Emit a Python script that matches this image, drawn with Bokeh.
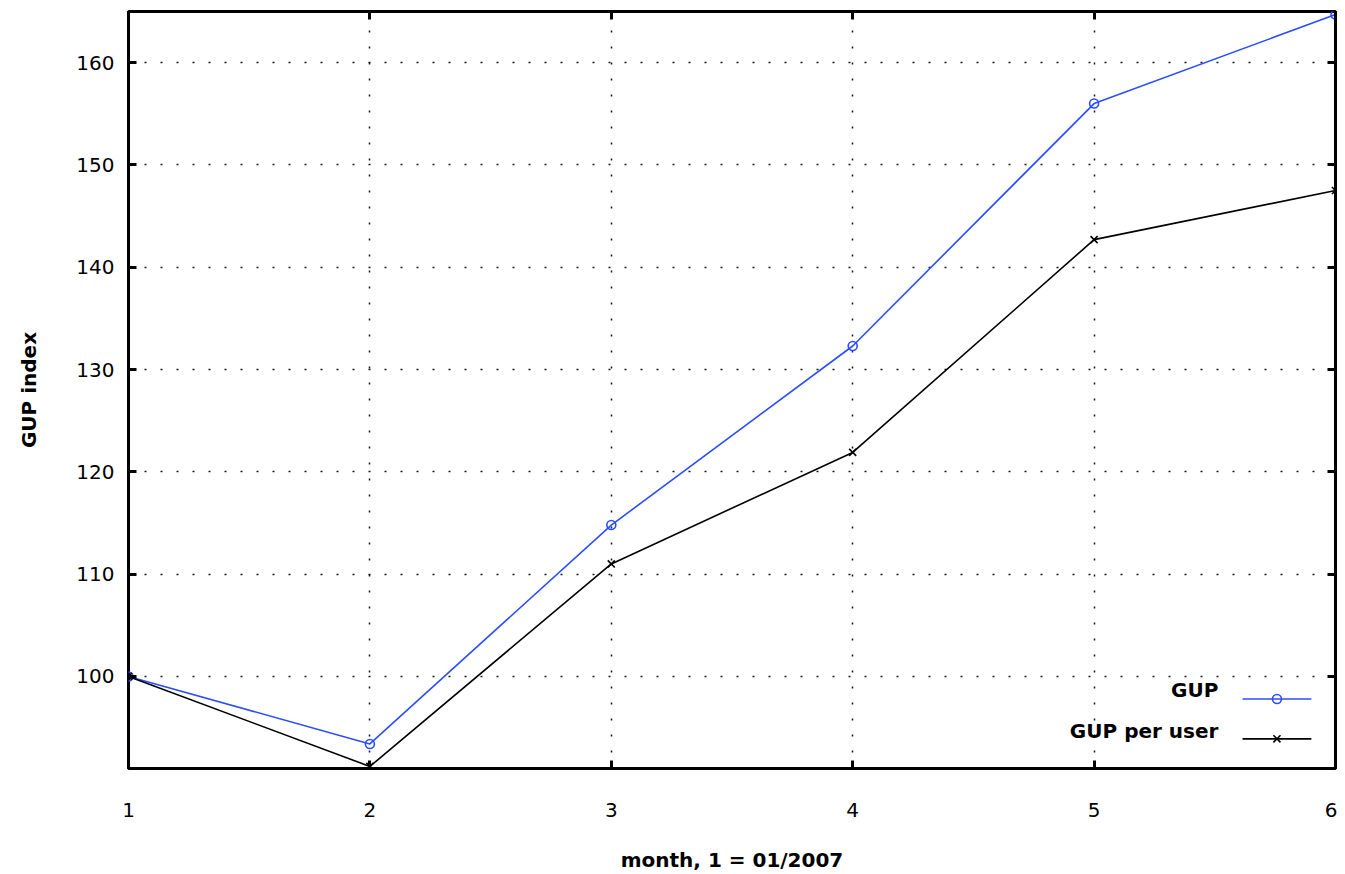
from bokeh.plotting import figure
from bokeh.models import Range1d, LinearAxis, FixedTicker, Label
from bokeh.embed import file_html
from bokeh.resources import INLINE

# ---- data ----
months = [1, 2, 3, 4, 5, 6]
gup = [100.0, 93.4, 114.8, 132.3, 156.0, 164.7]
gup_per_user = [100.0, 91.2, 111.0, 121.9, 142.7, 147.5]
x_ticks = [1, 2, 3, 4, 5, 6]
y_ticks = [100, 110, 120, 130, 140, 150, 160]
series_names = ["GUP", "GUP per user"]

BLUE = "#2b4dff"
TICK_FONT = "DejaVu Sans"

p = figure(width=1337, height=874, output_backend="svg", toolbar_location=None,
           x_range=Range1d(1, 6), y_range=Range1d(91, 165),
           min_border_left=128, min_border_right=2, min_border_top=11, min_border_bottom=106)
p.background_fill_color = "white"
p.border_fill_color = "white"
p.outline_line_color = "black"
p.outline_line_width = 3

for ax in (p.xaxis[0], p.yaxis[0]):
    ax.axis_line_color = None
    ax.major_tick_in = 8
    ax.major_tick_out = 0
    ax.major_tick_line_width = 3
    ax.minor_tick_line_color = None
    ax.major_label_text_font = TICK_FONT
    ax.major_label_text_font_size = "20px"
    ax.major_label_text_color = "black"
    ax.axis_label_text_font = TICK_FONT
    ax.axis_label_text_font_size = "20px"
    ax.axis_label_text_font_style = "bold"
    ax.axis_label_text_color = "black"

p.xaxis[0].ticker = FixedTicker(ticks=x_ticks)
p.yaxis[0].ticker = FixedTicker(ticks=y_ticks)
p.xaxis[0].axis_label = "month, 1 = 01/2007"
p.yaxis[0].axis_label = "GUP index"
p.xaxis[0].major_label_standoff = 34
p.yaxis[0].major_label_standoff = 14
p.xaxis[0].axis_label_standoff = 28
p.yaxis[0].axis_label_standoff = 32

# mirrored ticks on top and right (no labels)
for loc, tk in (("above", x_ticks), ("right", y_ticks)):
    ax = LinearAxis(ticker=FixedTicker(ticks=tk))
    ax.axis_line_color = None
    ax.major_tick_in = 8
    ax.major_tick_out = 0
    ax.major_tick_line_width = 3
    ax.minor_tick_line_color = None
    ax.major_label_text_color = None
    ax.major_label_text_font_size = "1px"
    ax.major_label_standoff = 0
    p.add_layout(ax, loc)

# dotted grid
p.xgrid.ticker = FixedTicker(ticks=x_ticks)
p.ygrid.ticker = FixedTicker(ticks=y_ticks)
for g in (p.xgrid[0], p.ygrid[0]):
    g.grid_line_color = "black"
    g.grid_line_width = 1.5
    g.grid_line_dash = "2 14"
    g.grid_line_alpha = 0.9

# series
p.line(months, gup, line_color=BLUE, line_width=1.6)
p.scatter(months, gup, marker="circle", size=9, fill_color=None, line_color=BLUE, line_width=1.6)
p.line(months, gup_per_user, line_color="black", line_width=1.6)
p.scatter(months, gup_per_user, marker="x", size=10, line_color="black", line_width=1.6)

# manual legend (gnuplot style: text left, sample right)
lx0, lx1 = 5.615, 5.90
lxm = (lx0 + lx1) / 2
ly = [97.8, 93.9]
ty = [98.7, 94.7]
tx = 5.515
p.line([lx0, lx1], [ly[0], ly[0]], line_color=BLUE, line_width=1.6)
p.scatter([lxm], [ly[0]], marker="circle", size=9, fill_color=None, line_color=BLUE, line_width=1.6)
p.line([lx0, lx1], [ly[1], ly[1]], line_color="black", line_width=1.6)
p.scatter([lxm], [ly[1]], marker="x", size=10, line_color="black", line_width=1.6)
for name, yy in zip(series_names, ty):
    p.add_layout(Label(x=tx, y=yy, text=name, text_align="right", text_baseline="middle",
                       text_font=TICK_FONT, text_font_size="20px", text_font_style="bold",
                       text_color="black"))

open("out.html", "w").write(file_html(p, INLINE))
